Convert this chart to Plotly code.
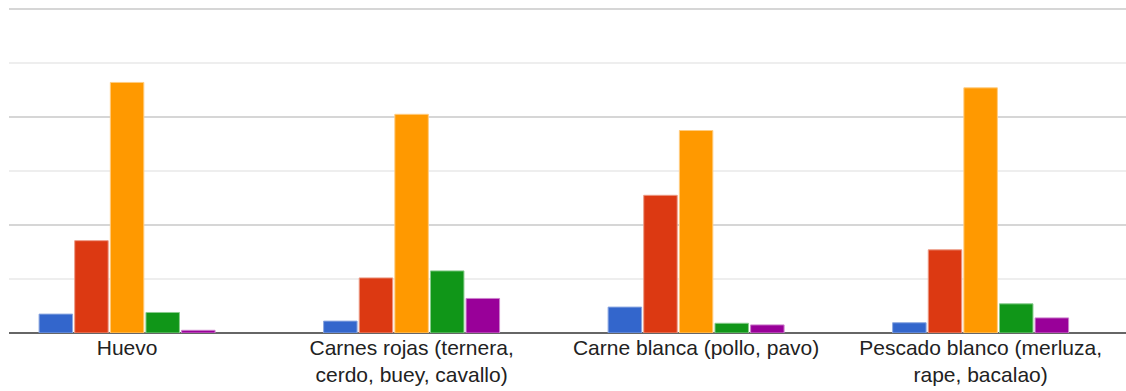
import plotly.graph_objects as go

categories = [
    "Huevo",
    "Carnes rojas (ternera,<br>cerdo, buey, cavallo)",
    "Carne blanca (pollo, pavo)",
    "Pescado blanco (merluza,<br>rape, bacalao)",
]
series_names = ["Opción 1", "Opción 2", "Opción 3", "Opción 4", "Opción 5"]
series_values = [
    [3.5, 2.2, 4.8, 1.9],
    [17.1, 10.2, 25.5, 15.4],
    [46.4, 40.5, 37.5, 45.4],
    [3.8, 11.5, 1.8, 5.4],
    [0.5, 6.4, 1.5, 2.8],
]
colors = ["#3366cc", "#dc3912", "#ff9900", "#109618", "#990099"]
border_colors = ["#8aa6e0", "#ec9a85", "#ffcc80", "#88cb8c", "#cc80cc"]

fig = go.Figure()
for name, vals, c, bc in zip(series_names, series_values, colors, border_colors):
    fig.add_trace(go.Bar(
        x=categories, y=vals, name=name,
        marker=dict(color=c, line=dict(color=bc, width=1)),
    ))

fig.update_layout(
    width=1126, height=391,
    margin=dict(l=9, r=0, t=7, b=58),
    paper_bgcolor="white", plot_bgcolor="white",
    barmode="group", bargap=0.374, bargroupgap=0.06,
    showlegend=False,
    font=dict(family="Arial, Liberation Sans, sans-serif", size=21, color="#222222"),
    xaxis=dict(
        range=[-0.415, 3.511], showgrid=False, showline=False, ticks="",
        tickfont=dict(size=21, color="#222222"),
    ),
    yaxis=dict(
        range=[0, 60.37], dtick=20, showticklabels=False, ticks="",
        showgrid=True, gridcolor="#d6d6d6", gridwidth=2,
        minor=dict(dtick=10, showgrid=True, gridcolor="#eeeeee", gridwidth=2),
        zeroline=True, zerolinecolor="#666666", zerolinewidth=2,
        showline=False,
    ),
)

fig.write_html("out.html")
